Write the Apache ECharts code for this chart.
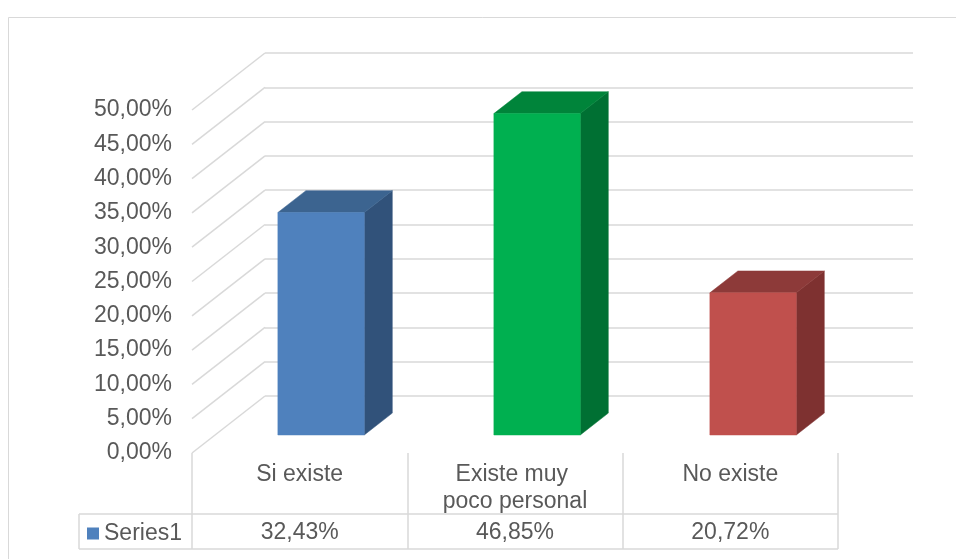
<!DOCTYPE html>
<html>
<head>
<meta charset="utf-8">
<script src="https://cdn.jsdelivr.net/npm/echarts@6/dist/echarts.min.js"></script>
<style>
  html, body { margin: 0; padding: 0; background: #ffffff; }
  #chart { width: 956px; height: 559px; }
</style>
</head>
<body>
<div id="chart"></div>
<script>
// ---- data ----
const categories = ['Si existe', 'Existe muy poco personal', 'No existe'];
const values = [32.43, 46.85, 20.72];
const seriesName = 'Series1';
const yTicks = [0, 5, 10, 15, 20, 25, 30, 35, 40, 45, 50];

// ---- styling ----
const FONT = "'Liberation Sans', Arial, sans-serif";
const TEXT = '#595959';
const LINE = '#d9d9d9';
const faces = [
  { front: '#4F81BD', side: '#31527A', top: '#3C6490' },
  { front: '#00B050', side: '#007033', top: '#00843A' },
  { front: '#C0504D', side: '#7E3130', top: '#8D3A39' }
];

// projection: offset from the back wall to the front edge of the floor
const DEPTH_X = -73, DEPTH_Y = 57;
const FRONT_F = 0.684;   // depth fraction of a column's front face
const BACK_F = 0.30;     // depth fraction of a column's back face
const BAR_SHIFT = -2;    // small lateral nudge of the columns

const fmtPct = v => v.toFixed(2).replace('.', ',') + '%';

const chart = echarts.init(document.getElementById('chart'), null, { renderer: 'canvas' });

const option = {
  backgroundColor: '#ffffff',
  animation: false,
  textStyle: { fontFamily: FONT, color: TEXT },
  grid: [
    // front plane: value labels and data table
    { left: 192, right: 118, top: 110, bottom: 106 },
    // back wall
    { left: 265, right: 43, top: 53, bottom: 163 }
  ],
  legend: {
    data: [seriesName],
    left: 87,
    top: 522,
    padding: 0,
    icon: 'rect',
    itemWidth: 12,
    itemHeight: 12,
    itemGap: 5,
    textStyle: { fontFamily: FONT, fontSize: 23, color: TEXT },
    selectedMode: false
  },
  xAxis: [
    {
      type: 'category', gridIndex: 0, position: 'bottom',
      data: categories,
      axisLine: { show: false },
      axisTick: { show: true, length: 96, lineStyle: { color: LINE, width: 1.5 } },
      axisLabel: {
        interval: 0, margin: 8, fontSize: 23, color: TEXT, fontFamily: FONT,
        lineHeight: 27, width: 160, overflow: 'break', align: 'center'
      }
    },
    {
      type: 'category', gridIndex: 0, position: 'bottom', offset: 61,
      data: values.map(fmtPct),
      axisLine: { show: false },
      axisTick: { show: false },
      axisLabel: { interval: 0, margin: 5, fontSize: 23, color: TEXT, fontFamily: FONT, lineHeight: 27 }
    },
    {
      type: 'category', gridIndex: 1,
      data: categories,
      axisLine: { show: false }, axisTick: { show: false }, axisLabel: { show: false }
    }
  ],
  yAxis: [
    {
      type: 'value', gridIndex: 0, min: 0, max: 50, interval: 5,
      axisLine: { show: false }, axisTick: { show: false },
      splitLine: { show: false },
      axisLabel: { margin: 20, fontSize: 23, color: TEXT, fontFamily: FONT, formatter: fmtPct }
    },
    {
      type: 'value', gridIndex: 1, min: 0, max: 50, interval: 5,
      axisLine: { show: false }, axisTick: { show: false }, axisLabel: { show: false },
      splitLine: { show: true, lineStyle: { color: LINE, width: 1.5 } }
    }
  ],
  graphic: [
    // outer chart border
    { type: 'rect', shape: { x: 8.5, y: 17.5, width: 1000, height: 600 },
      style: { fill: 'none', stroke: LINE, lineWidth: 1 }, silent: true },
    // data table horizontal rules and legend cell edge
    { type: 'line', shape: { x1: 79, y1: 514, x2: 838, y2: 514 }, style: { stroke: LINE, lineWidth: 1.5 }, silent: true },
    { type: 'line', shape: { x1: 79, y1: 549, x2: 838, y2: 549 }, style: { stroke: LINE, lineWidth: 1.5 }, silent: true },
    { type: 'line', shape: { x1: 79, y1: 514, x2: 79, y2: 549 }, style: { stroke: LINE, lineWidth: 1.5 }, silent: true }
  ],
  series: [
    {
      // side wall gridlines running from the back wall to the front edge
      type: 'custom',
      name: 'wall',
      xAxisIndex: 2, yAxisIndex: 1,
      data: yTicks.map(t => [0, t]),
      encode: { x: 0, y: 1 },
      silent: true,
      z: 1,
      renderItem(params, api) {
        const y = api.coord([0, api.value(1)])[1];
        const x = params.coordSys.x;
        return {
          type: 'line',
          shape: { x1: x, y1: y, x2: x + DEPTH_X, y2: y + DEPTH_Y },
          style: { stroke: LINE, lineWidth: 1.5 }
        };
      }
    },
    {
      type: 'custom',
      name: seriesName,
      xAxisIndex: 2, yAxisIndex: 1,
      itemStyle: { color: '#4F81BD' },
      data: values.map((v, i) => [i, v]),
      encode: { x: 0, y: 1 },
      z: 3,
      renderItem(params, api) {
        const i = api.value(0);
        const top = api.coord([i, api.value(1)]);
        const base = api.coord([i, 0]);
        const w = api.size([1, 0])[0] * 0.4;
        const fx = DEPTH_X * FRONT_F + BAR_SHIFT, fy = DEPTH_Y * FRONT_F;
        const bx = DEPTH_X * BACK_F + BAR_SHIFT, by = DEPTH_Y * BACK_F;
        const xl = top[0] - w / 2, xr = top[0] + w / 2;
        const c = faces[i % faces.length];
        const poly = (pts, fill) => ({
          type: 'polygon', shape: { points: pts },
          style: { fill: fill, stroke: fill, lineWidth: 0.5 }
        });
        return {
          type: 'group',
          children: [
            poly([[xr + fx, top[1] + fy], [xr + bx, top[1] + by], [xr + bx, base[1] + by], [xr + fx, base[1] + fy]], c.side),
            poly([[xl + fx, top[1] + fy], [xl + bx, top[1] + by], [xr + bx, top[1] + by], [xr + fx, top[1] + fy]], c.top),
            poly([[xl + fx, top[1] + fy], [xr + fx, top[1] + fy], [xr + fx, base[1] + fy], [xl + fx, base[1] + fy]], c.front)
          ]
        };
      }
    }
  ]
};

chart.setOption(option);
</script>
</body>
</html>
